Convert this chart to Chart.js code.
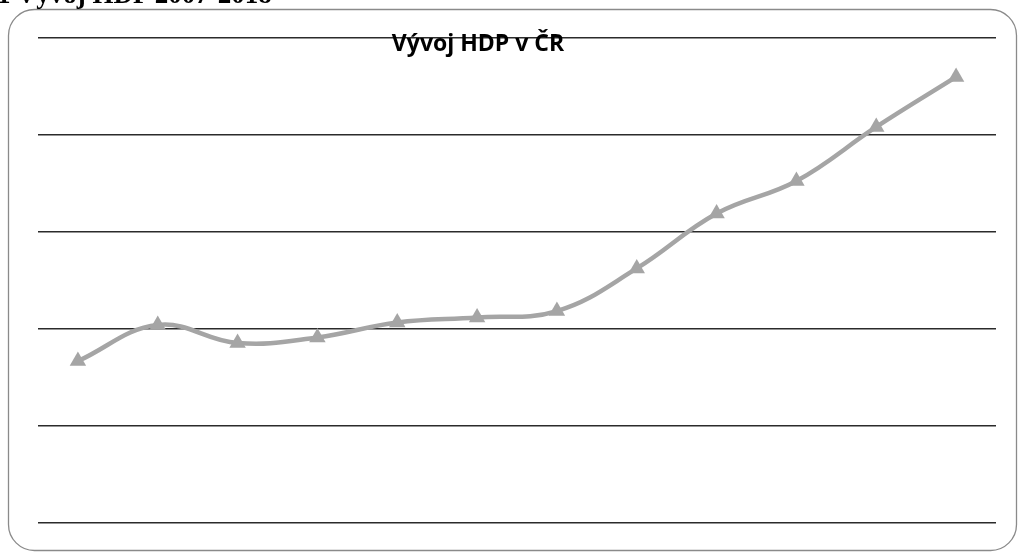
<!DOCTYPE html>
<html>
<head>
<meta charset="utf-8">
<script src="https://cdn.jsdelivr.net/npm/chart.js@4"></script>
<style>
  html, body { margin: 0; padding: 0; background: #fff; overflow: hidden; }
  #wrap { position: relative; width: 1025px; height: 557px; }
  #heading {
    position: absolute; left: -3px; top: -21px;
    font-family: "Liberation Serif", "DejaVu Serif", serif;
    font-size: 27px; font-weight: 700;
    color: #000; white-space: nowrap; line-height: 30px;
  }
  canvas { position: absolute; left: 0; top: 0; }
</style>
</head>
<body>
<div id="wrap">
  <canvas id="c" width="1025" height="557"></canvas>
  <div id="heading">1 Vývoj HDP 2007-2018</div>
</div>
<script>
// Years and GDP (bn CZK)
const years = ['2007','2008','2009','2010','2011','2012','2013','2014','2015','2016','2017','2018'];
const hdp = [3333, 3519, 3426, 3455, 3532, 3558, 3591, 3811, 4094, 4262, 4541, 4799];
const chartTitle = 'Vývoj HDP v ČR';

// Rounded frame around the chart
const framePlugin = {
  id: 'frame',
  beforeDraw(chart) {
    const ctx = chart.ctx;
    const x = 8.5, y = 9.5, w = 1008, h = 541, r = 26;
    ctx.save();
    ctx.beginPath();
    ctx.moveTo(x + r, y);
    ctx.lineTo(x + w - r, y);
    ctx.arcTo(x + w, y, x + w, y + r, r);
    ctx.lineTo(x + w, y + h - r);
    ctx.arcTo(x + w, y + h, x + w - r, y + h, r);
    ctx.lineTo(x + r, y + h);
    ctx.arcTo(x, y + h, x, y + h - r, r);
    ctx.lineTo(x, y + r);
    ctx.arcTo(x, y, x + r, y, r);
    ctx.closePath();
    ctx.lineWidth = 1.3;
    ctx.strokeStyle = '#8a8a8a';
    ctx.stroke();
    ctx.restore();
  }
};

// Title drawn over the top of the plot area
const titlePlugin = {
  id: 'overlayTitle',
  afterDatasetsDraw(chart) {
    const ctx = chart.ctx;
    ctx.save();
    ctx.font = 'bold 23px "Open Sans", Lato, sans-serif';
    ctx.fillStyle = '#000';
    ctx.textAlign = 'center';
    ctx.textBaseline = 'alphabetic';
    ctx.fillText(chartTitle, 478, 50.5);
    ctx.restore();
  }
};

new Chart(document.getElementById('c'), {
  type: 'line',
  data: {
    labels: years,
    datasets: [{
      label: 'HDP',
      data: hdp,
      borderColor: '#a5a5a5',
      backgroundColor: '#a5a5a5',
      borderWidth: 4.5,
      tension: 0.4,
      pointStyle: 'triangle',
      pointRadius: 9.5,
      pointHoverRadius: 9.5,
      pointBorderWidth: 0,
      pointBackgroundColor: '#a5a5a5'
    }]
  },
  options: {
    responsive: false,
    animation: false,
    devicePixelRatio: 1,
    layout: { padding: { left: 38, right: 29, top: 38, bottom: 34.5 } },
    plugins: {
      legend: { display: false },
      tooltip: { enabled: false },
      title: { display: false }
    },
    scales: {
      x: {
        display: false,
        offset: true
      },
      y: {
        display: true,
        min: 2500,
        max: 5000,
        ticks: { display: false, stepSize: 500 },
        border: { display: false },
        grid: { color: '#2b2b2b', lineWidth: 1.4, drawTicks: false, tickLength: 0 }
      }
    }
  },
  plugins: [framePlugin, titlePlugin]
});
</script>
</body>
</html>
